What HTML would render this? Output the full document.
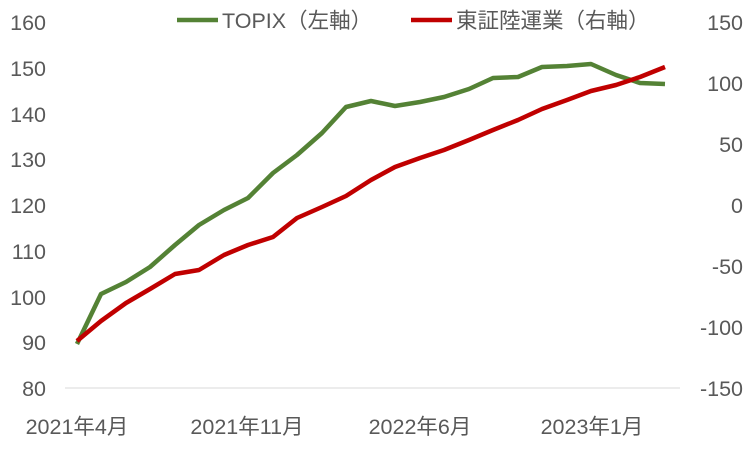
<!DOCTYPE html>
<html><head><meta charset="utf-8"><style>
body{margin:0;background:#fff;}
svg text{font-family:"Liberation Sans","Noto Sans CJK JP",sans-serif;fill:#595959;font-size:21.5px;}
</style></head><body>
<svg width="751" height="450" viewBox="0 0 751 450">
<rect width="751" height="450" fill="#fff"/>
<line x1="65" y1="388" x2="680" y2="388" stroke="#d9d9d9" stroke-width="1"/>
<g text-anchor="end">
<text x="46" y="30">160</text><text x="46" y="76">150</text><text x="46" y="122">140</text><text x="46" y="167">130</text><text x="46" y="213">120</text><text x="46" y="259">110</text><text x="46" y="305">100</text><text x="46" y="350">90</text><text x="46" y="396">80</text>
</g>
<g text-anchor="end">
<text x="743" y="30">150</text><text x="743" y="91">100</text><text x="743" y="152">50</text><text x="743" y="213">0</text><text x="743" y="274">-50</text><text x="743" y="335">-100</text><text x="743" y="396">-150</text>
</g>
<g text-anchor="middle">
<text x="77" y="434">2021年4月</text><text x="247" y="434">2021年11月</text><text x="420" y="434">2022年6月</text><text x="592" y="434">2023年1月</text>
</g>
<polyline fill="none" stroke="#548235" stroke-width="4.5" stroke-linejoin="round" points="77,344 101,294 126,282 150,267 175,245 199,225 224,210 248,198 273,173 297,155 322,133 346,107 371,101 395,106 420,102 444,97 469,89 493,78 518,77 542,67 567,66 591,64 616,75 640,83 665,84"/>
<polyline fill="none" stroke="#c00000" stroke-width="4.5" stroke-linejoin="round" points="77,341 101,321 126,303 150,289 175,274 199,270 224,255 248,245 273,237 297,218 322,207 346,196 371,180 395,167 420,158 444,150 469,140 493,130 518,120 542,109 567,100 591,91 616,85 640,77 665,67"/>
<line x1="177" y1="20" x2="218" y2="20" stroke="#548235" stroke-width="4.5"/>
<text x="222" y="28">TOPIX（左軸）</text>
<line x1="411" y1="20" x2="452" y2="20" stroke="#c00000" stroke-width="4.5"/>
<text x="456" y="28">東証陸運業（右軸）</text>
</svg>
</body></html>
